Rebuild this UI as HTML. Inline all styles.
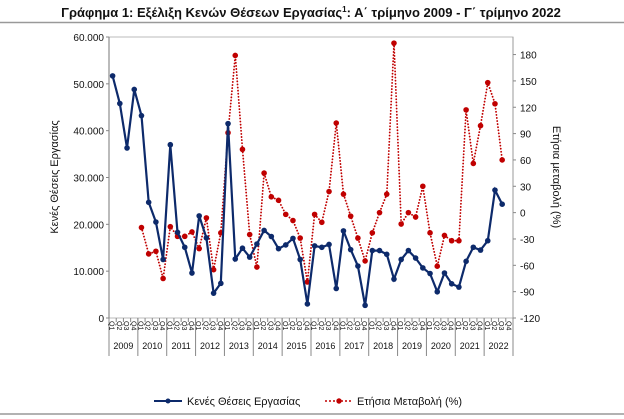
<!DOCTYPE html>
<html><head><meta charset="utf-8"><style>
body{margin:0;background:#fff;}
svg{display:block;font-family:"Liberation Sans","DejaVu Sans",sans-serif;}
</style></head><body>
<svg id="c" width="624" height="419" viewBox="0 0 624 419" xmlns="http://www.w3.org/2000/svg">
<text x="311" y="17" text-anchor="middle" font-size="13" font-weight="bold" fill="#111">Γράφημα 1: Εξέλιξη Κενών Θέσεων Εργασίας<tspan font-size="8" dy="-5">1</tspan><tspan dy="5">: Α΄ τρίμηνο 2009 - Γ΄ τρίμηνο 2022</tspan></text>
<line x1="0" y1="22.5" x2="624" y2="22.5" stroke="#999" stroke-width="1.5"/>
<line x1="0" y1="414" x2="624" y2="414" stroke="#999" stroke-width="1.5"/>
<rect x="109" y="37" width="404" height="281" fill="none" stroke="#bbb"/>
<line x1="109" y1="37" x2="109" y2="318" stroke="#777"/>
<line x1="513" y1="37" x2="513" y2="318" stroke="#999"/>
<g id="axes"></g><g id="marks"></g>
<text transform="translate(58,177) rotate(-90)" text-anchor="middle" font-size="11" fill="#111">Κενές Θέσεις Εργασίας</text>
<text transform="translate(553,177) rotate(90)" text-anchor="middle" font-size="11" fill="#111">Ετήσια μεταβολή (%)</text>
<g>
<line x1="154" y1="401" x2="182" y2="401" stroke="#0d2a6b" stroke-width="2"/>
<circle cx="168" cy="401" r="2.5" fill="#0d2a6b"/>
<text x="187" y="405" font-size="11" fill="#111">Κενές Θέσεις Εργασίας</text>
<line x1="325" y1="401" x2="353" y2="401" stroke="#c00000" stroke-width="1.5" stroke-dasharray="2,2"/>
<circle cx="339" cy="401" r="2.7" fill="#c00000"/>
<text x="357" y="405" font-size="11" fill="#111">Ετήσια Μεταβολή  (%)</text>
</g>
</svg>
<script>
const years=["2009","2010","2011","2012","2013","2014","2015","2016","2017","2018","2019","2020","2021","2022"];
const leftTicks=[0,10000,20000,30000,40000,50000,60000];
const rightTicks=[-120,-90,-60,-30,0,30,60,90,120,150,180];
const vacancies=[51700,45800,36300,48800,43200,24700,20500,12500,37000,18300,15100,9600,21800,17100,5300,7400,41500,12600,14900,13000,15800,18700,17400,14800,15600,17000,12500,3000,15400,15100,15700,6300,18600,14600,11100,2700,14400,14400,13600,8300,12500,14400,12800,10700,9500,5600,9600,7300,6600,12100,15100,14500,16500,27300,24300];
const change=[null,null,null,null,-17,-47,-44,-75,-16,-27,-27,-22,-41,-6,-65,-23,91,179,72,-25,-62,45,18,14,-2,-9,-29,-79,-2,-11,24,102,21,-4,-29,-55,-23,0,21,193,-13,0,-5,30,-23,-61,-26,-32,-32,117,56,99,148,124,60];
const X0=109,X1=513,Y0=37,Y1=318,N=years.length*4;
const sw=(X1-X0)/N;
const x=i=>X0+sw*(i+0.5);
const yL=v=>Y1-(v/60000)*(Y1-Y0);
const yR=v=>Y1-((v+120)/320)*(Y1-Y0);
const NS="http://www.w3.org/2000/svg";
function mk(t,a,p){const e=document.createElementNS(NS,t);for(const k in a)e.setAttribute(k,a[k]);p.appendChild(e);return e;}
const ax=document.getElementById('axes'),mg=document.getElementById('marks');
leftTicks.forEach(v=>{
 const t=mk('text',{x:104,y:yL(v)+4,'text-anchor':'end','font-size':10,fill:'#111'},ax);t.textContent=v.toLocaleString('de-DE');
 
 
 const l=mk('line',{x1:106,x2:109,y1:yL(v),y2:yL(v),stroke:'#888'},ax);
 
 
});
rightTicks.forEach(v=>{
 const t=mk('text',{x:520,y:yR(v)+4,'font-size':10,fill:'#111'},ax);t.textContent=v;
 
 
 const l=mk('line',{x1:513,x2:516,y1:yR(v),y2:yR(v),stroke:'#888'},ax);
 
 
});
for(let i=0;i<N;i++){
 const l=mk('line',{x1:X0+sw*i,x2:X0+sw*i,y1:Y1,y2:Y1+4,stroke:'#888'},ax);
 
 
 const t=mk('text',{transform:`translate(${x(i)-3},${Y1+3}) rotate(90)`,'font-size':7,fill:'#111'},ax);t.textContent='Q'+(i%4+1);
 
 
}
years.forEach((yr,k)=>{
 const xs=X0+sw*4*k;
 const l=mk('line',{x1:xs,x2:xs,y1:Y1,y2:356,stroke:'#888'},ax);
 
 
 const t=mk('text',{x:xs+sw*2,y:349,'text-anchor':'middle','font-size':9,fill:'#111'},ax);t.textContent=yr;
 
 
});
const le=mk('line',{x1:X1,x2:X1,y1:Y1,y2:356,stroke:'#888'},ax);


let d='';change.forEach((v,i)=>{if(v==null)return;d+=(d?'L':'M')+x(i).toFixed(1)+','+yR(v).toFixed(1);});
const pr=mk('path',{d:d,fill:'none',stroke:'#c00000','stroke-width':1.8,'stroke-dasharray':'0.1,3','stroke-linecap':'round'},mg);


change.forEach((v,i)=>{if(v==null)return;
 const c=mk('circle',{cx:x(i),cy:yR(v),r:2.8,fill:'#c00000'},mg);
 
 
});
let d2='';vacancies.forEach((v,i)=>{d2+=(i?'L':'M')+x(i).toFixed(1)+','+yL(v).toFixed(1);});
const pb=mk('path',{d:d2,fill:'none',stroke:'#0d2a6b','stroke-width':2.2},mg);


vacancies.forEach((v,i)=>{
 const c=mk('circle',{cx:x(i),cy:yL(v),r:2.8,fill:'#0d2a6b'},mg);
 
 
});
</script>
</body></html>
